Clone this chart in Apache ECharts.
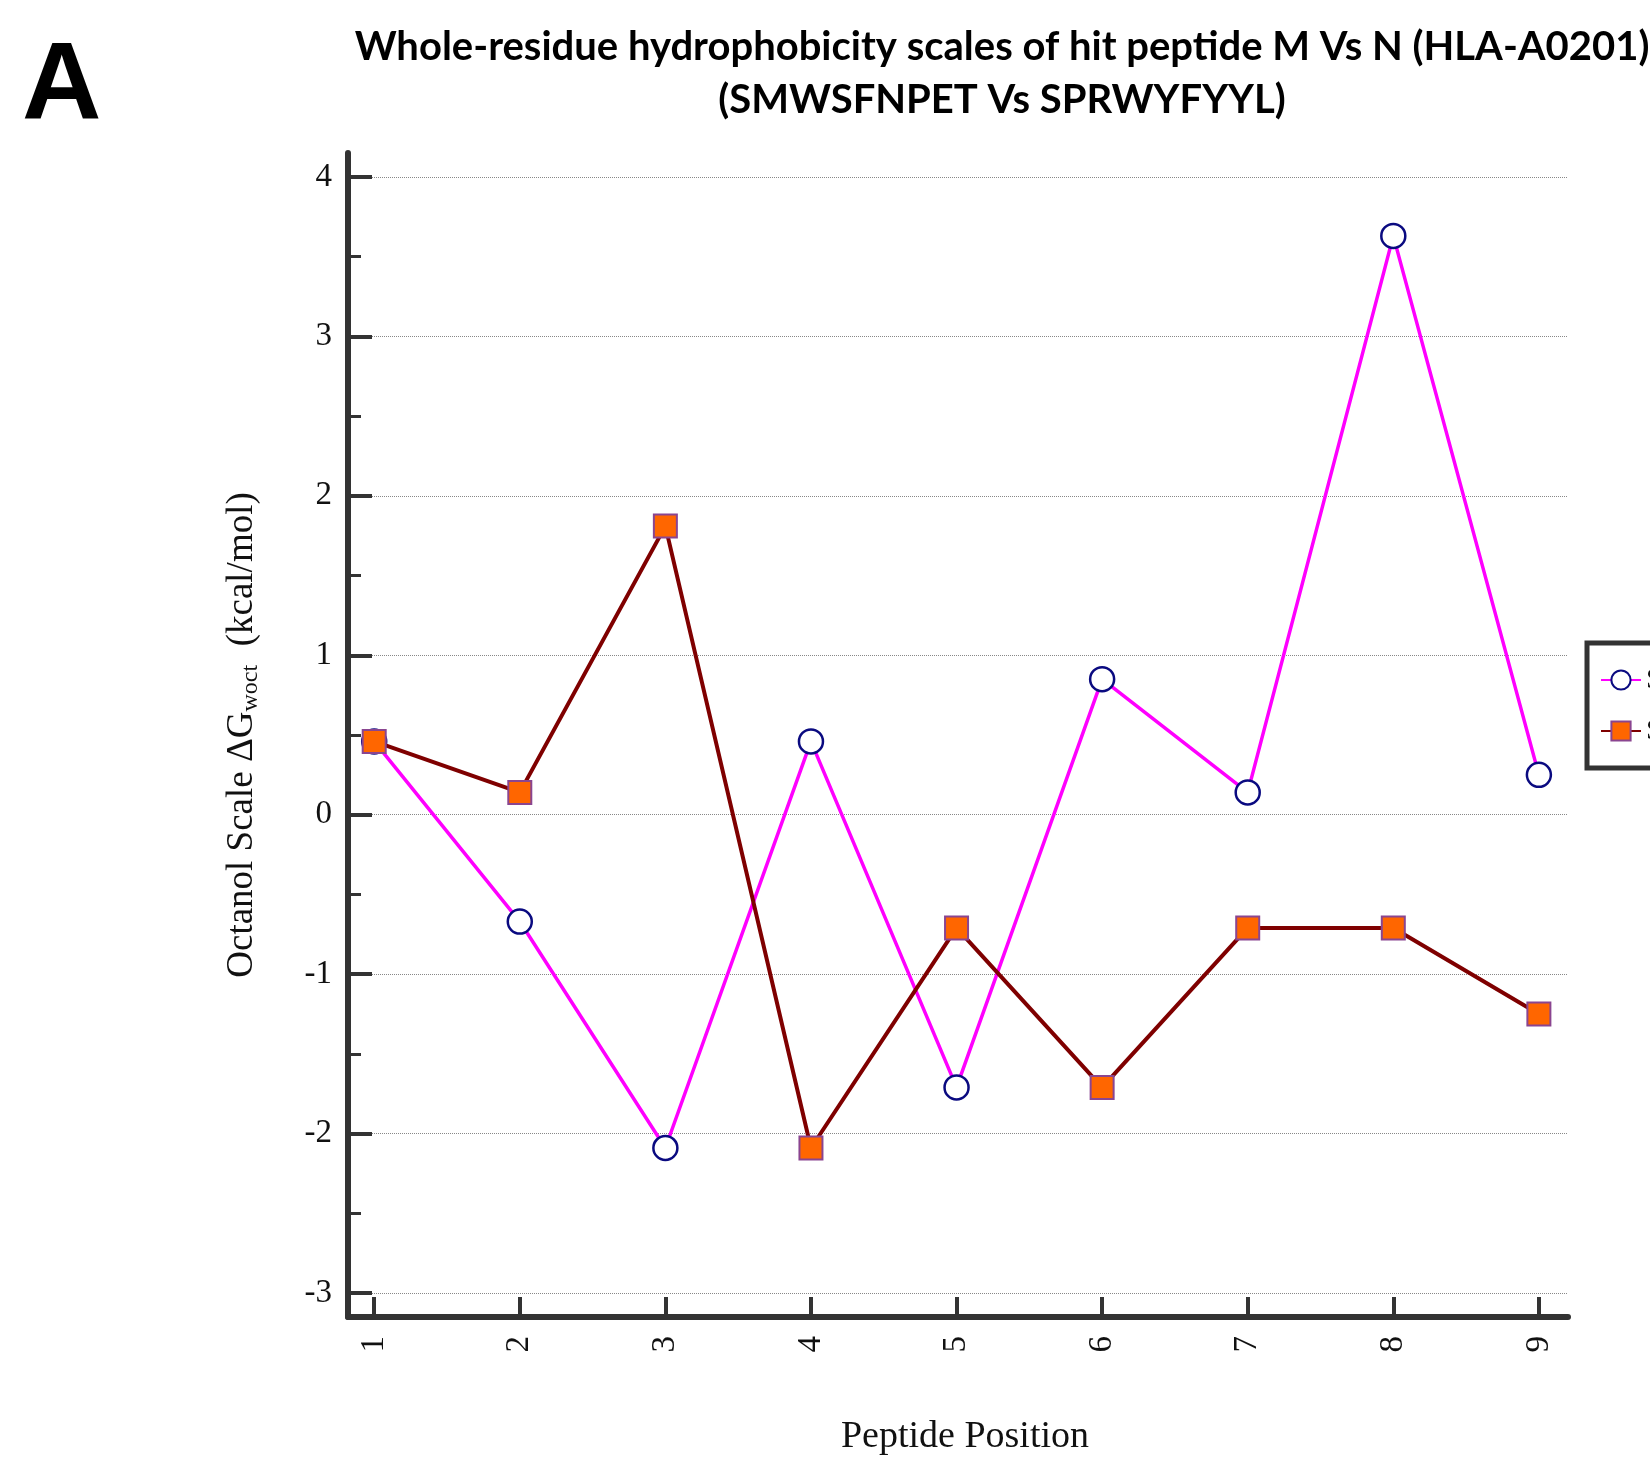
<!DOCTYPE html>
<html>
<head>
<meta charset="utf-8">
<title>Whole-residue hydrophobicity scales</title>
<script src="https://cdn.jsdelivr.net/npm/echarts@6/dist/echarts.min.js"></script>
<style>
  html, body { margin: 0; padding: 0; background: #fff; }
  #chart { width: 1650px; height: 1466px; }
</style>
</head>
<body>
<div id="chart"></div>
<script>
// Peptide positions along the x axis
const positions = [1, 2, 3, 4, 5, 6, 7, 8, 9];

// Octanol-scale free energies per residue (kcal/mol)
const peptideM = [0.46, -0.67, -2.09, 0.46, -1.71, 0.85, 0.14, 3.63, 0.25]; // SMWSFNPET
const peptideN = [0.46, 0.14, 1.81, -2.09, -0.71, -1.71, -0.71, -0.71, -1.25]; // SPRWYFYYL

const seriesNames = ['SMWSFNPET', 'SPRWYFYYL'];

// Axis tick values
const yMajorTicks = [-3, -2, -1, 0, 1, 2, 3, 4];
const yMinorTicks = [-2.5, -1.5, -0.5, 0.5, 1.5, 2.5, 3.5];

const serif = 'Liberation Serif';
const axisColor = '#333';

const chart = echarts.init(document.getElementById('chart'), null, { renderer: 'canvas' });

chart.setOption({
  backgroundColor: '#fff',
  animation: false,
  title: [
    {
      text: 'A',
      left: 17,
      top: 28,
      textStyle: { fontFamily: 'Liberation Sans', fontWeight: 'bold', fontSize: 110, color: '#000' }
    },
    {
      text: 'Whole-residue hydrophobicity scales of hit peptide M Vs N (HLA-A0201)\n(SMWSFNPET Vs SPRWYFYYL)',
      left: 997,
      top: 16,
      textAlign: 'center',
      textStyle: {
        fontFamily: 'Lato',
        fontWeight: 'bold',
        fontSize: 40,
        lineHeight: 53,
        color: '#000'
      }
    }
  ],
  legend: {
    orient: 'vertical',
    left: 1587,
    top: 643,
    padding: [22, 14, 22, 13],
    itemWidth: 40,
    itemHeight: 24,
    itemGap: 21,
    borderColor: '#333',
    borderWidth: 5,
    backgroundColor: '#fff',
    textStyle: { fontFamily: serif, fontSize: 30, color: '#111' },
    data: seriesNames
  },
  grid: {
    left: 348,
    right: 82,
    top: 153,
    bottom: 149,
    containLabel: false
  },
  xAxis: {
    type: 'value',
    min: 0.82,
    max: 9.2,
    name: 'Peptide Position',
    nameLocation: 'middle',
    nameGap: 101,
    nameTextStyle: { fontFamily: serif, fontSize: 38, color: '#111', padding: [0, 0, 0, 14] },
    axisLine: { show: true, onZero: false, lineStyle: { color: axisColor, width: 6 } },
    axisTick: {
      show: true,
      inside: true,
      length: 20,
      customValues: positions,
      lineStyle: { color: axisColor, width: 4 }
    },
    axisLabel: {
      customValues: positions,
      rotate: 90,
      margin: 19,
      fontFamily: serif,
      fontSize: 33,
      color: '#111'
    },
    splitLine: { show: false }
  },
  yAxis: [
    {
      type: 'value',
      min: -3.15,
      max: 4.15,
      splitNumber: 7,
      name: '{t|Octanol Scale ΔG}{s|woct}{t|  (kcal/mol)}',
      nameLocation: 'middle',
      nameGap: 83,
      nameRotate: 90,
      nameTextStyle: {
        rich: {
          t: { fontFamily: serif, fontSize: 37, color: '#111', lineHeight: 46 },
          s: { fontFamily: serif, fontSize: 24, color: '#111', lineHeight: 46, padding: [18, 0, 0, 0] }
        }
      },
      axisLine: { show: true, onZero: false, lineStyle: { color: axisColor, width: 6 } },
      axisTick: {
        show: true,
        inside: true,
        length: 24,
        customValues: yMajorTicks,
        lineStyle: { color: axisColor, width: 4 }
      },
      axisLabel: {
        customValues: yMajorTicks,
        margin: 16,
        fontFamily: serif,
        fontSize: 33,
        color: '#111'
      },
      splitLine: {
        show: true,
        showMinLine: true,
        showMaxLine: true,
        lineStyle: { color: '#888', width: 1, type: 'dotted' }
      }
    },
    {
      // minor ticks at the half units
      type: 'value',
      min: -3.15,
      max: 4.15,
      position: 'left',
      axisLine: { show: false },
      axisTick: {
        show: true,
        inside: true,
        length: 13,
        customValues: yMinorTicks,
        lineStyle: { color: axisColor, width: 3 }
      },
      axisLabel: { show: false },
      splitLine: { show: false }
    }
  ],
  series: [
    {
      name: seriesNames[0],
      type: 'line',
      data: positions.map((p, i) => [p, peptideM[i]]),
      symbol: 'circle',
      symbolSize: 24,
      lineStyle: { color: '#ff00ff', width: 3.5 },
      itemStyle: { color: '#ffffff', borderColor: '#0a0a80', borderWidth: 2.5 },
      emphasis: { disabled: true },
      z: 2
    },
    {
      name: seriesNames[1],
      type: 'line',
      data: positions.map((p, i) => [p, peptideN[i]]),
      symbol: 'rect',
      symbolSize: 23,
      lineStyle: { color: '#7f0000', width: 4 },
      itemStyle: { color: '#ff6600', borderColor: '#8a4590', borderWidth: 2 },
      emphasis: { disabled: true },
      z: 3
    }
  ]
});
</script>
</body>
</html>
